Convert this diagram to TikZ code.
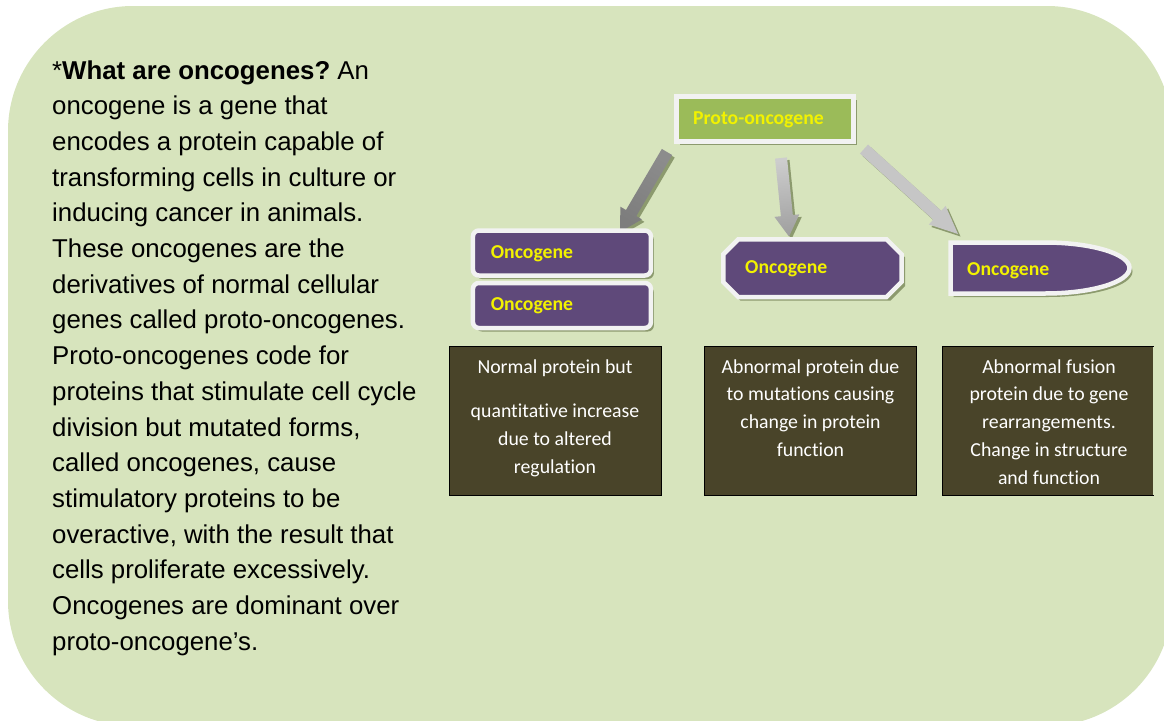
\documentclass[tikz,border=0pt]{standalone}
\usepackage{fontspec}
\setmainfont{Liberation Sans}
\newfontfamily\carl[Ligatures=NoCommon]{Carlito}
\usetikzlibrary{calc,shadows}
\definecolor{bgc}{HTML}{D7E4BD}
\definecolor{olivec}{HTML}{9BBB59}
\definecolor{purp}{HTML}{5F497A}
\definecolor{brownc}{HTML}{494429}
\definecolor{bordc}{HTML}{F2F2F2}
\definecolor{ylw}{HTML}{F2F200}
\definecolor{shad}{HTML}{8C9A6E}
\definecolor{arrg}{HTML}{C6C6C6}
\newcommand{\blockarrow}[6]{%
  \coordinate (#1hb) at ($(#2)!#5!(#1)$);
  \path[#6] ($(#1)!#3!90:(#2)$) -- ($(#1hb)!#3!90:(#2)$) -- ($(#1hb)!#4!90:(#2)$) -- (#2)
    -- ($(#1hb)!#4!-90:(#2)$) -- ($(#1hb)!#3!-90:(#2)$) -- ($(#1)!#3!-90:(#2)$) -- cycle;}
\tikzset{
  sh/.style={drop shadow={shadow xshift=3pt, shadow yshift=-3.5pt, fill=shad, opacity=1}},
  protobox/.style={rectangle, fill=olivec, draw=bordc, line width=5pt, sh,
    minimum width=177pt, minimum height=44.5pt, inner sep=0},
  oncobox/.style={rectangle, rounded corners=6pt, fill=purp, draw=bordc, line width=4.5pt, sh,
    minimum width=178pt, minimum height=45pt, inner sep=0},
  oncoshape/.style={fill=purp, draw=bordc, line width=4.5pt},
  lbl/.style={font=\carl\bfseries\fontsize{19.7}{23}\selectfont, text=ylw, anchor=base west, inner sep=0},
  infobox/.style={rectangle, fill=brownc, draw=black, line width=0.9pt,
    minimum width=212pt, minimum height=148.3pt, inner sep=0},
  info/.style={anchor=base, inner sep=0, text=white, font=\carl\fontsize{19.8}{27.8}\selectfont},
  arrshadow/.style={fill=shad},
}
\begin{document}
\begin{tikzpicture}[x=1pt,y=-1pt]
\useasboundingbox (0,0) rectangle (1164,720);
\clip (0,0) rectangle (1164,720);
\fill[bgc, rounded corners=125pt] (8,6) rectangle (1172,726);

% intro text
\node[anchor=base west, inner sep=0] (intro) at (52,79) {\parbox[t]{400pt}{\fontsize{25.8}{35.7}\selectfont\raggedright\frenchspacing
*\textbf{What are oncogenes?} An\\
oncogene is a gene that\\
encodes a protein capable of\\
transforming cells in culture or\\
inducing cancer in animals.\\
These oncogenes are the\\
derivatives of normal cellular\\
genes called proto-oncogenes.\\
Proto-oncogenes code for\\
proteins that stimulate cell cycle\\
division but mutated forms,\\
called oncogenes, cause\\
stimulatory proteins to be\\
overactive, with the result that\\
cells proliferate excessively.\\
Oncogenes are dominant over\\
proto-oncogene’s.}};

% proto-oncogene
\node[protobox] (proto) at (765,118.75) {};
\node[lbl] (protot) at (693,124.5) {Proto-oncogene};

% arrows
\coordinate (a1t) at (667,152); \coordinate (a1h) at (620,232);
\coordinate (a2t) at (781,158); \coordinate (a2h) at (789,236.5);
\coordinate (a3t) at (864,149); \coordinate (a3h) at (958,234);
\begin{scope}[transform canvas={xshift=2.5pt,yshift=-2.5pt}]
\blockarrow{a1t}{a1h}{6pt}{12.5pt}{22pt}{arrshadow}
\blockarrow{a2t}{a2h}{6pt}{12.5pt}{21pt}{arrshadow}
\blockarrow{a3t}{a3h}{6pt}{12.5pt}{28pt}{arrshadow}
\end{scope}
\blockarrow{a1t}{a1h}{6pt}{12.5pt}{22pt}{top color={rgb,255:red,125;green,125;blue,125}, middle color={rgb,255:red,205;green,205;blue,205}, bottom color={rgb,255:red,140;green,140;blue,140}, shading angle=149.6}
\blockarrow{a2t}{a2h}{6pt}{12.5pt}{21pt}{top color={rgb,255:red,160;green,160;blue,160}, middle color={rgb,255:red,205;green,205;blue,205}, bottom color={rgb,255:red,205;green,205;blue,205}, shading angle=185.8}
\blockarrow{a3t}{a3h}{6pt}{12.5pt}{28pt}{fill=arrg}

% left oncogene boxes
\node[oncobox] (onc1) at (561.9,253) {};
\node[lbl] (onc1t) at (490.7,258.5) {Oncogene};
\node[oncobox] (onc2) at (561.9,305.5) {};
\node[lbl] (onc2t) at (490.7,310.5) {Oncogene};

% octagon
\fill[shad] (740.3,242.8) -- (890.5,242.8) -- (905,257.3) -- (905,286) -- (890.5,300.5) -- (740.3,300.5) -- (726.3,286.5) -- (726.3,256.8) -- cycle;
\path[oncoshape] (738.3,239.3) -- (886.5,239.3) -- (901.5,254.3) -- (901.5,282) -- (886.5,297) -- (738.3,297) -- (723.3,282) -- (723.3,254.3) -- cycle;
\node[lbl] (onc3t) at (745,273.5) {Oncogene};

% rounded-end shape
\fill[shad] (953.5,246) -- (1048,246) arc[start angle=90, end angle=-90, x radius=84.5pt, y radius=25.5pt] -- (953.5,297) -- cycle;
\path[oncoshape] (950.5,242.5) -- (1045,242.5) arc[start angle=90, end angle=-90, x radius=84.5pt, y radius=25.5pt] -- (950.5,293.5) -- cycle;
\node[lbl] (onc4t) at (967,275) {Oncogene};

% info boxes
\node[infobox] (ib1) at (555,420.85) {};
\node[info] (ib1t) at (555,373) {\parbox[t]{212pt}{\centering Normal protein but\\[17pt]
quantitative increase\\ due to altered\\ regulation}};
\node[infobox] (ib2) at (810.5,420.85) {};
\node[info] (ib2t) at (810.5,373) {\parbox[t]{212pt}{\centering Abnormal protein due\\
to mutations causing\\ change in protein\\ function}};
\node[infobox, draw=none, minimum width=210pt] (ib3) at (1048.3,420.85) {};
\draw[black, line width=0.9pt] (ib3.north east) -- (ib3.north west) -- (ib3.south west) -- (ib3.south east);
\node[info] (ib3t) at (1049,373) {\parbox[t]{212pt}{\centering Abnormal fusion\\
protein due to gene\\ rearrangements.\\ Change in structure\\ and function}};
\end{tikzpicture}
\end{document}
